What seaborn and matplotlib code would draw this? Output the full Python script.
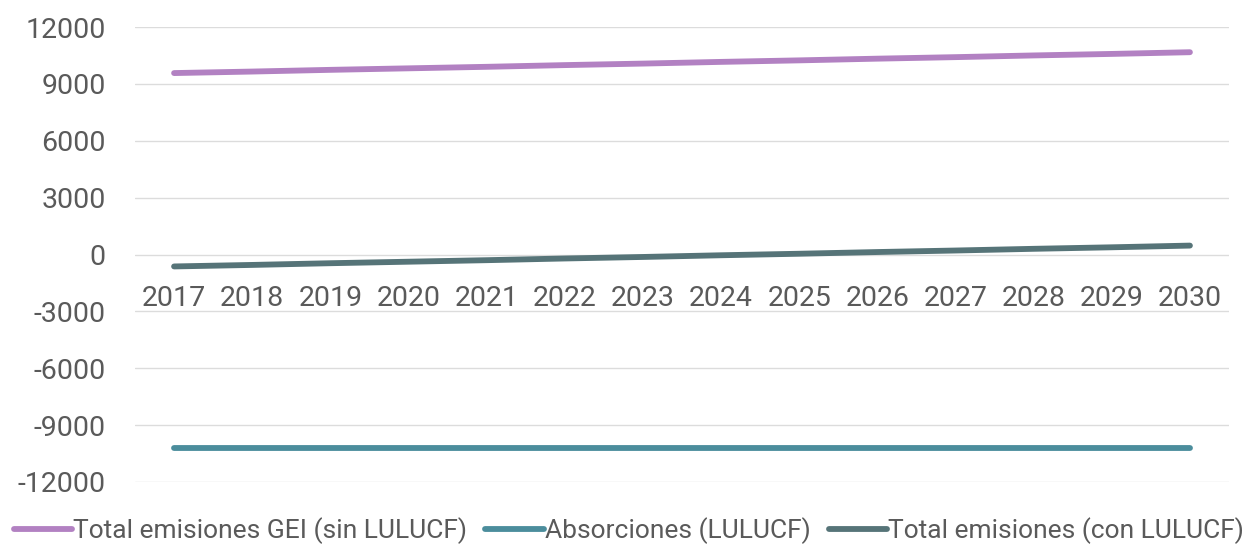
import matplotlib
matplotlib.use("Agg")
import matplotlib.pyplot as plt
from matplotlib import font_manager
import seaborn as sns
import pandas as pd

years = ["2017", "2018", "2019", "2020", "2021", "2022", "2023",
         "2024", "2025", "2026", "2027", "2028", "2029", "2030"]
sin_lulucf = [9570, 9650, 9740, 9820, 9900, 9990, 10070,
              10160, 10240, 10330, 10410, 10500, 10580, 10670]
absorciones = [-10200, -10200, -10200, -10200, -10200, -10200, -10200,
               -10200, -10200, -10200, -10200, -10200, -10200, -10200]
con_lulucf = [-630, -550, -460, -380, -300, -210, -130,
              -40, 40, 130, 210, 300, 380, 470]

series_names = ["Total emisiones GEI (sin LULUCF)",
                "Absorciones (LULUCF)",
                "Total emisiones (con LULUCF)"]
colors = ["#b281c2", "#4b8d9c", "#567478"]
y_ticks = [-12000, -9000, -6000, -3000, 0, 3000, 6000, 9000, 12000]

df = pd.DataFrame({
    "year": years * 3,
    "value": sin_lulucf + absorciones + con_lulucf,
    "serie": [series_names[0]] * len(years) + [series_names[1]] * len(years)
             + [series_names[2]] * len(years),
})

sns.set_theme(style="white")
available = {f.name for f in font_manager.fontManager.ttflist}
family = "Liberation Sans Narrow" if "Liberation Sans Narrow" in available else "Roboto"
plt.rcParams["font.family"] = [family, "DejaVu Sans"]

text_color = "#5a5a5a"
fig = plt.figure(figsize=(12.58, 5.51), dpi=100)
ax = fig.add_axes([135 / 1258, 1 - 482 / 551, (1229 - 135) / 1258, (482 - 27) / 551])

sns.lineplot(data=df, x="year", y="value", hue="serie", hue_order=series_names,
             palette=colors, linewidth=4.2, ax=ax, legend=False,
             solid_capstyle="round")

ax.set_xlim(-0.5, len(years) - 0.5)
ax.set_ylim(-12000, 12000)
ax.set_yticks(y_ticks)
ax.set_yticklabels([str(v) for v in y_ticks])
ax.yaxis.grid(True, color="#dcdcdc", linewidth=1.0)
ax.set_axisbelow(True)
for s in ["top", "right", "left"]:
    ax.spines[s].set_visible(False)
ax.spines["bottom"].set_position(("data", 0))
ax.spines["bottom"].set_visible(False)
ax.set_xlabel("")
ax.set_ylabel("")
ax.tick_params(axis="y", length=0, pad=21, labelsize=20.5, labelcolor=text_color)
ax.tick_params(axis="x", length=0, pad=22, labelsize=20.5, labelcolor=text_color)

handles = [plt.Line2D([], [], color=c, linewidth=4.2) for c in colors]
fig.legend(handles, series_names, loc="lower center", bbox_to_anchor=(0.5, -0.03),
           ncol=3, frameon=False, fontsize=19, handlelength=2.2,
           handletextpad=0.05, columnspacing=0.7, labelcolor=text_color)

fig.savefig("out.png", dpi=100, facecolor="white")
